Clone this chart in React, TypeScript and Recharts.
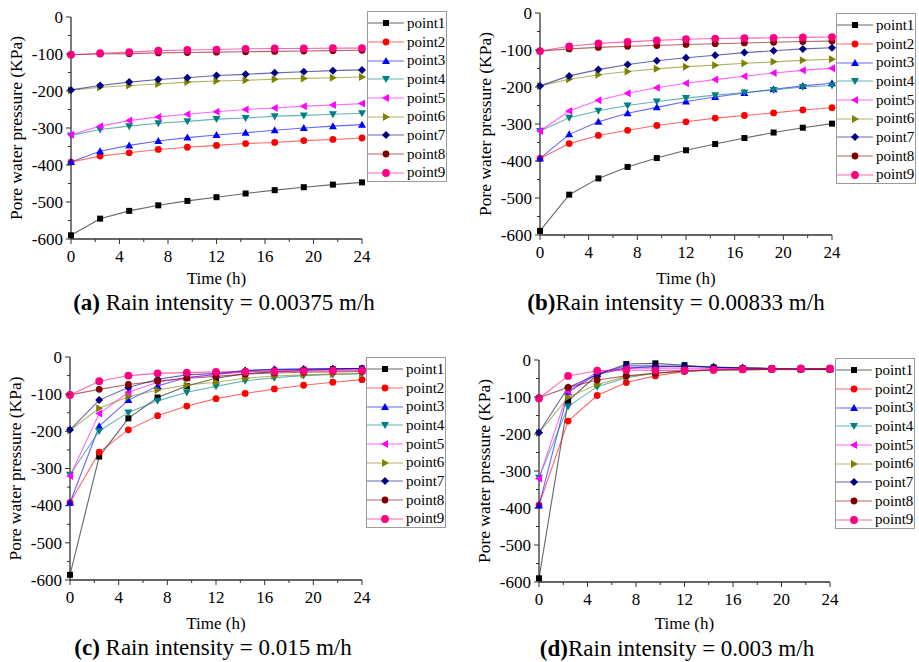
import { Legend, Line, LineChart, XAxis, YAxis } from 'recharts'

const FONT = "'Liberation Serif', 'Times New Roman', serif"

const TIME = [0, 2.4, 4.8, 7.2, 9.6, 12, 14.4, 16.8, 19.2, 21.6, 24]
const POINT_NAMES = ['point1', 'point2', 'point3', 'point4', 'point5', 'point6', 'point7', 'point8', 'point9']
const POINT_COLORS = ['#000000', '#ff0000', '#0000ff', '#008080', '#ff00ff', '#808000', '#000080', '#800000', '#ff0080']
const POINT_SHAPES = ['square', 'circle', 'up', 'down', 'left', 'right', 'diamond', 'circle', 'bigcircle']
const Y_TICKS = [0, -50, -100, -150, -200, -250, -300, -350, -400, -450, -500, -550, -600]
const X_TICKS = [0, 2, 4, 6, 8, 10, 12, 14, 16, 18, 20, 22, 24]

// (a) 0.00375 m/h
const RAIN_A = [
	[-590, -545, -524, -509, -497, -487, -477, -468, -460, -453, -447],
	[-392, -376, -367, -358, -352, -347, -342, -339, -334, -331, -327],
	[-392, -363, -347, -335, -326, -319, -313, -306, -300, -295, -291],
	[-320, -304, -295, -287, -282, -276, -273, -268, -266, -263, -260],
	[-318, -295, -280, -270, -263, -256, -250, -246, -241, -238, -234],
	[-198, -190, -185, -181, -176, -173, -171, -168, -166, -164, -162],
	[-197, -185, -176, -169, -164, -158, -155, -151, -148, -145, -143],
	[-102, -100, -99, -97, -96, -95, -94, -93, -92, -91, -90],
	[-102, -98, -95, -91, -89, -88, -86, -85, -85, -84, -84],
]

// (b) 0.00833 m/h
const RAIN_B = [
	[-589, -491, -447, -416, -392, -371, -354, -338, -323, -310, -299],
	[-393, -353, -331, -317, -304, -294, -284, -277, -270, -262, -256],
	[-393, -328, -294, -271, -255, -239, -227, -216, -206, -197, -190],
	[-319, -283, -264, -250, -239, -230, -222, -215, -208, -200, -196],
	[-319, -265, -236, -217, -202, -190, -180, -171, -162, -155, -149],
	[-197, -179, -167, -158, -151, -145, -141, -136, -132, -128, -125],
	[-197, -170, -153, -139, -129, -121, -114, -107, -102, -97, -94],
	[-103, -97, -93, -90, -88, -85, -83, -81, -79, -77, -76],
	[-103, -90, -82, -78, -74, -71, -69, -68, -67, -66, -65],
]

// (c) 0.015 m/h
const RAIN_C = [
	[-586, -268, -165, -109, -78, -57, -45, -40, -36, -33, -31],
	[-392, -256, -196, -158, -132, -112, -98, -86, -76, -68, -61],
	[-392, -186, -116, -78, -55, -47, -36, -33, -32, -31, -31],
	[-317, -199, -149, -118, -95, -79, -64, -56, -50, -47, -45],
	[-320, -152, -95, -68, -55, -47, -40, -37, -35, -34, -33],
	[-197, -138, -107, -89, -75, -68, -57, -51, -48, -46, -44],
	[-196, -116, -82, -60, -48, -44, -37, -34, -33, -32, -31],
	[-102, -87, -74, -65, -57, -52, -46, -43, -41, -40, -39],
	[-102, -65, -50, -44, -42, -40, -40, -39, -38, -37, -36],
]

// (d) 0.003 m/h
const RAIN_D = [
	[-590, -111, -40, -11, -9, -14, -20, -22, -23, -24, -24],
	[-392, -165, -96, -61, -43, -31, -27, -26, -25, -24, -24],
	[-393, -87, -38, -16, -16, -17, -20, -22, -23, -24, -24],
	[-318, -126, -72, -48, -36, -30, -27, -26, -25, -25, -25],
	[-320, -85, -32, -22, -22, -22, -23, -24, -24, -24, -24],
	[-197, -101, -66, -45, -35, -29, -27, -26, -26, -26, -26],
	[-196, -74, -39, -22, -18, -17, -19, -21, -23, -24, -24],
	[-102, -74, -54, -43, -36, -30, -27, -26, -25, -25, -25],
	[-104, -43, -29, -27, -28, -28, -26, -25, -24, -23, -23],
]

function toRows(series: number[][]) {
	return TIME.map((t, i) => {
		const row: Record<string, number> = { t }
		POINT_NAMES.forEach((n, k) => {
			row[n] = series[k][i]
		})
		return row
	})
}

function Marker({ cx, cy, shape, color }: { cx: number; cy: number; shape: string; color: string }) {
	if (cx == null || cy == null) return null
	switch (shape) {
		case 'square':
			return <rect x={cx - 3} y={cy - 3} width={6} height={6} fill={color} />
		case 'circle':
			return <circle cx={cx} cy={cy} r={3.4} fill={color} />
		case 'bigcircle':
			return <circle cx={cx} cy={cy} r={3.9} fill={color} />
		case 'up':
			return <polygon points={`${cx},${cy - 4} ${cx + 4},${cy + 3} ${cx - 4},${cy + 3}`} fill={color} />
		case 'down':
			return <polygon points={`${cx},${cy + 4} ${cx + 4},${cy - 3} ${cx - 4},${cy - 3}`} fill={color} />
		case 'left':
			return <polygon points={`${cx - 4},${cy} ${cx + 3},${cy - 4} ${cx + 3},${cy + 4}`} fill={color} />
		case 'right':
			return <polygon points={`${cx + 4},${cy} ${cx - 3},${cy - 4} ${cx - 3},${cy + 4}`} fill={color} />
		default:
			return <polygon points={`${cx},${cy - 4} ${cx + 4},${cy} ${cx},${cy + 4} ${cx - 4},${cy}`} fill={color} />
	}
}

function XTick(props: any) {
	const { x, y, payload } = props
	const major = payload.value % 4 === 0
	return (
		<g>
			<line x1={x} x2={x} y1={y} y2={y + (major ? 5 : 3)} stroke='#333' />
			{major && (
				<text x={x} y={y + 22.5} textAnchor='middle' fontSize={17} fontFamily={FONT} fill='#000'>
					{payload.value}
				</text>
			)}
		</g>
	)
}

function YTick(props: any) {
	const { x, y, payload } = props
	const major = payload.value % 100 === 0
	return (
		<g>
			<line x1={x} x2={x - (major ? 5 : 3)} y1={y} y2={y} stroke='#333' />
			{major && (
				<text x={x - 8} y={y + 5.8} textAnchor='end' fontSize={17} fontFamily={FONT} fill='#000'>
					{payload.value}
				</text>
			)}
		</g>
	)
}

function LegendBox() {
	return (
		<div
			style={{
				width: 80,
				height: 171,
				boxSizing: 'border-box',
				border: '1.5px solid #9a9a9a',
				background: '#fff',
				paddingTop: 2,
			}}
		>
			{POINT_NAMES.map((n, i) => (
				<div key={n} style={{ display: 'flex', alignItems: 'center', height: 18.7 }}>
					<svg width={36} height={10} style={{ display: 'block', flex: 'none' }}>
						<line x1={0} x2={36} y1={5} y2={5} stroke={POINT_COLORS[i]} strokeOpacity={0.6} strokeWidth={1.2} />
						<Marker cx={18} cy={5} shape={POINT_SHAPES[i]} color={POINT_COLORS[i]} />
					</svg>
					<span style={{ fontFamily: FONT, fontSize: 15, marginLeft: 3, lineHeight: '15px', color: '#000' }}>{n}</span>
				</div>
			))}
		</div>
	)
}

type Geom = {
	left: number
	top: number
	width: number
	height: number
	plotLeft: number
	plotRight: number
	plotTop: number
	plotBottom: number
	legendLeft: number
	legendTop: number
	timeOffset: number
}

function Panel({ series, g }: { series: number[][]; g: Geom }) {
	const data = toRows(series)
	return (
		<div style={{ position: 'absolute', left: g.left, top: g.top }}>
			<LineChart
				width={g.width}
				height={g.height}
				data={data}
				margin={{ top: g.plotTop, right: g.width - g.plotRight, bottom: g.height - g.plotBottom - 50, left: 0 }}
			>
				<XAxis
					dataKey='t'
					type='number'
					domain={[0, 24]}
					ticks={X_TICKS}
					interval={0}
					tickSize={0}
					tickMargin={0}
					tickLine={false}
					tick={<XTick />}
					axisLine={{ stroke: '#333', strokeWidth: 1.3 }}
					height={50}
					label={{
						value: 'Time (h)',
						position: 'insideTop',
						offset: g.timeOffset,
						fontSize: 17,
						fontFamily: FONT,
						fill: '#000',
					}}
				/>
				<YAxis
					type='number'
					domain={[-600, 0]}
					ticks={Y_TICKS}
					interval={0}
					tickSize={0}
					tickMargin={0}
					tickLine={false}
					tick={<YTick />}
					axisLine={{ stroke: '#333', strokeWidth: 1.3 }}
					width={g.plotLeft}
					label={{
						value: 'Pore water pressure (KPa)',
						angle: -90,
						position: 'insideLeft',
						offset: g.plotLeft - 55,
						fontSize: 17.5,
						fontFamily: FONT,
						fill: '#000',
						style: { textAnchor: 'middle' },
					}}
				/>
				<Legend
					layout='vertical'
					align='center'
					verticalAlign='middle'
					wrapperStyle={{ left: g.legendLeft, top: g.legendTop, width: 80 }}
					content={() => <LegendBox />}
				/>
				{POINT_NAMES.map((n, i) => (
					<Line
						key={n}
						dataKey={n}
						name={n}
						stroke={POINT_COLORS[i]}
						strokeOpacity={0.6}
						strokeWidth={1.1}
						isAnimationActive={false}
						dot={(p: any) => (
							<Marker key={`${n}-${p.index}`} cx={p.cx} cy={p.cy} shape={POINT_SHAPES[i]} color={POINT_COLORS[i]} />
						)}
						activeDot={false}
					/>
				))}
			</LineChart>
		</div>
	)
}

function Caption({ cx, cy, tag, text, gap }: { cx: number; cy: number; tag: string; text: string; gap: boolean }) {
	return (
		<div
			style={{
				position: 'absolute',
				left: cx - 220,
				top: cy - 15,
				width: 440,
				textAlign: 'center',
				fontFamily: FONT,
				fontSize: 23,
				lineHeight: '30px',
				color: '#000',
				whiteSpace: 'pre',
			}}
		>
			<b>{tag}</b>
			{gap ? ' ' : ''}
			{text}
		</div>
	)
}

export default function App() {
	return (
		<div style={{ position: 'absolute', left: 0, top: 0, width: 919, height: 662, background: '#fff', overflow: 'hidden' }}>
			<Panel
				series={RAIN_A}
				g={{ left: 0, top: 0, width: 460, height: 330, plotLeft: 71, plotRight: 362, plotTop: 17, plotBottom: 239, legendLeft: 367, legendTop: 11, timeOffset: 33 }}
			/>
			<Panel
				series={RAIN_B}
				g={{ left: 460, top: 0, width: 459, height: 330, plotLeft: 80, plotRight: 372, plotTop: 13, plotBottom: 235, legendLeft: 376, legendTop: 13, timeOffset: 37 }}
			/>
			<Panel
				series={RAIN_C}
				g={{ left: 0, top: 330, width: 460, height: 332, plotLeft: 70, plotRight: 362, plotTop: 27, plotBottom: 250, legendLeft: 366, legendTop: 27, timeOffset: 37 }}
			/>
			<Panel
				series={RAIN_D}
				g={{ left: 460, top: 330, width: 459, height: 332, plotLeft: 79, plotRight: 370, plotTop: 30, plotBottom: 252, legendLeft: 375, legendTop: 28, timeOffset: 35 }}
			/>
			<Caption cx={224} cy={303} tag='(a)' text='Rain intensity = 0.00375 m/h' gap />
			<Caption cx={676} cy={303} tag='(b)' text='Rain intensity = 0.00833 m/h' gap={false} />
			<Caption cx={213} cy={648} tag='(c)' text='Rain intensity = 0.015 m/h' gap />
			<Caption cx={677} cy={649} tag='(d)' text='Rain intensity = 0.003 m/h' gap={false} />
		</div>
	)
}
